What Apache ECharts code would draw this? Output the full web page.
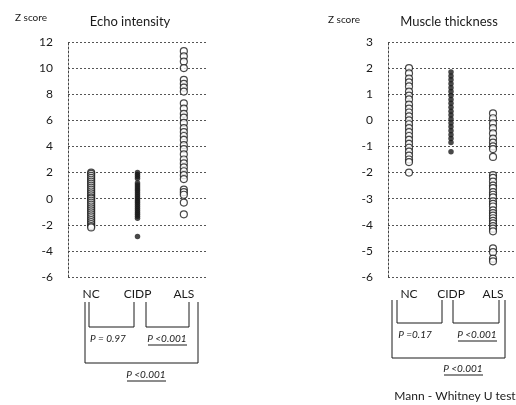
<!DOCTYPE html>
<html>
<head>
<meta charset="utf-8">
<script src="https://cdn.jsdelivr.net/npm/echarts@6/dist/echarts.min.js"></script>
<style>
  html, body { margin: 0; padding: 0; background: #fff; }
  #chart { width: 516px; height: 405px; }
</style>
</head>
<body>
<div id="chart"></div>
<script>
// groups on the x axis
const groups = ['NC', 'CIDP', 'ALS'];

// Echo intensity z scores
const echoNC = [2.0, 1.9, 1.75, 1.6, 1.45, 1.3, 1.15, 1.0, 0.85, 0.7, 0.55, 0.4, 0.25, 0.1, 0.0,
  -0.15, -0.3, -0.45, -0.6, -0.75, -0.9, -1.05, -1.2, -1.35, -1.5, -1.65, -1.8, -1.95, -2.1, -2.2];
const echoCIDP = [2.0, 1.85, 1.7, 1.55, 1.2, 1.05, 0.9, 0.75, 0.6, 0.45, 0.3, 0.15, 0.0, -0.15,
  -0.3, -0.45, -0.6, -0.75, -0.9, -1.05, -1.2, -1.35, -1.5, -2.9];
const echoALS = [11.3, 10.9, 10.5, 10.0, 9.1, 8.8, 8.5, 8.2, 7.3, 6.9, 6.5, 6.2, 5.8, 5.4, 5.1, 4.8,
  4.5, 4.1, 3.8, 3.4, 3.0, 2.7, 2.4, 2.1, 1.8, 1.5, 0.7, 0.5, 0.3, -0.3, -1.2];

// Muscle thickness z scores
const muscleNC = [2.0, 1.8, 1.6, 1.45, 1.3, 1.1, 0.95, 0.8, 0.6, 0.45, 0.3, 0.15, 0.0, -0.15,
  -0.3, -0.45, -0.6, -0.75, -0.9, -1.05, -1.2, -1.35, -1.5, -1.6, -2.0];
const muscleCIDP = [1.85, 1.7, 1.55, 1.4, 1.25, 1.1, 0.95, 0.8, 0.65, 0.5, 0.35, 0.2, 0.05, -0.1,
  -0.25, -0.4, -0.55, -0.7, -0.85, -1.2];
const muscleALS = [0.27, 0.08, -0.12, -0.3, -0.5, -0.7, -0.85, -1.0, -1.1, -1.4,
  -2.1, -2.2, -2.35, -2.5, -2.6, -2.75, -2.85, -2.95, -3.1, -3.2, -3.3, -3.45, -3.55, -3.65,
  -3.75, -3.85, -3.95, -4.05, -4.15, -4.25, -4.9, -5.05, -5.3, -5.4];

// axis ranges
const echoMin = -6, echoMax = 12, echoStep = 2;
const muscleMin = -6, muscleMax = 3, muscleStep = 1;

const font = 'Lato';
const ink = '#1a1a1a';

const chart = echarts.init(document.getElementById('chart'));

const openCircle = { color: '#fff', borderColor: ink, borderWidth: 1.2 };
const filledDot = { color: ink };

function pts(name, vals) {
  return vals.map(v => [name, v]);
}

function yAxisFor(grid, min, max, step) {
  return {
    gridIndex: grid, type: 'value', min: min, max: max, interval: step,
    axisLine: { show: true, lineStyle: { color: '#444', type: [2, 2], width: 1 } },
    axisTick: { show: false },
    axisLabel: { color: ink, fontFamily: font, fontSize: 12, margin: 15 },
    splitLine: { show: true, lineStyle: { color: '#555', type: [2, 2], width: 1 } }
  };
}

function xAxisFor(grid) {
  return {
    gridIndex: grid, type: 'category', data: groups,
    axisLine: { show: false }, axisTick: { show: false },
    axisLabel: { color: ink, fontFamily: font, fontSize: 12, margin: 11 }
  };
}

function series(grid, name, vals, style, size) {
  return {
    type: 'scatter', xAxisIndex: grid, yAxisIndex: grid,
    data: pts(name, vals), symbol: 'circle', symbolSize: size,
    itemStyle: style, silent: true
  };
}

const txt = (x, y, s, size, extra) => Object.assign({
  type: 'text', x: x, y: y,
  style: Object.assign({ text: s, fill: ink, font: size + 'px ' + font, align: 'center', verticalAlign: 'middle' }, extra || {})
});
const line = (pts) => ({ type: 'polyline', shape: { points: pts }, style: { stroke: ink, lineWidth: 1, fill: null } });
const ptxt = (x, y, s) => txt(x, y, s, 10, { font: 'italic 10px ' + font });

chart.setOption({
  animation: false,
  backgroundColor: '#fff',
  grid: [
    { left: 68, right: 309, top: 42, bottom: 128 },
    { left: 388, right: 2, top: 42, bottom: 128 }
  ],
  xAxis: [xAxisFor(0), xAxisFor(1)],
  yAxis: [yAxisFor(0, echoMin, echoMax, echoStep), yAxisFor(1, muscleMin, muscleMax, muscleStep)],
  series: [
    series(0, 'NC', echoNC, openCircle, 7),
    series(0, 'CIDP', echoCIDP, filledDot, 5.5),
    series(0, 'ALS', echoALS, openCircle, 7),
    series(1, 'NC', muscleNC, openCircle, 7),
    series(1, 'CIDP', muscleCIDP, filledDot, 5.5),
    series(1, 'ALS', muscleALS, openCircle, 7)
  ],
  graphic: [
    txt(31, 18, 'Z score', 10),
    txt(130, 22, 'Echo intensity', 13),
    txt(344, 20, 'Z score', 10),
    txt(449, 22, 'Muscle thickness', 13),

    // left brackets
    line([[85, 302], [85, 363], [198, 363], [198, 302]]),
    line([[89, 302], [89, 327], [134, 327], [134, 302]]),
    line([[146, 302], [146, 327], [189, 327], [189, 302]]),
    ptxt(108, 339, 'P = 0.97'),
    ptxt(167, 339, 'P <0.001'),
    line([[148, 345], [187, 345]]),
    ptxt(146, 375, 'P <0.001'),
    line([[127, 381], [166, 381]]),

    // right brackets
    line([[392, 300], [392, 358], [505, 358], [505, 300]]),
    line([[397, 300], [397, 323], [442, 323], [442, 300]]),
    line([[453, 300], [453, 323], [499, 323], [499, 300]]),
    ptxt(415, 335, 'P =0.17'),
    ptxt(477, 335, 'P <0.001'),
    line([[458, 341], [497, 341]]),
    ptxt(463, 369, 'P <0.001'),
    line([[444, 375], [483, 375]]),
    txt(455, 396, 'Mann - Whitney U test', 12)
  ]
});
</script>
</body>
</html>
